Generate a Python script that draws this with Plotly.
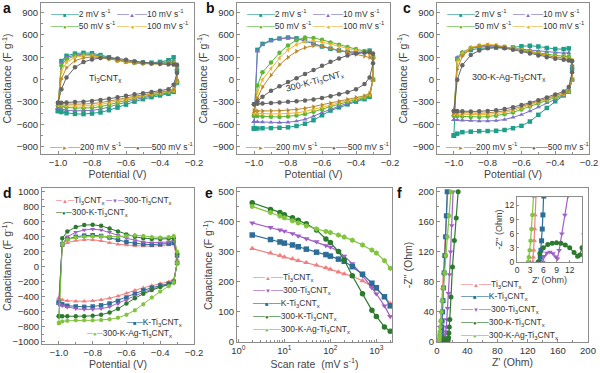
import plotly.graph_objects as go

W, H = 600, 373
FONT = "Liberation Sans, Arial, sans-serif"

# ---------------- data ----------------
POTENTIAL = [-1.0, -0.98, -0.95, -0.90, -0.85, -0.80, -0.75, -0.70, -0.65,
             -0.60, -0.55, -0.50, -0.45, -0.40, -0.35, -0.32, -0.30]
CV_RATES = [2, 10, 50, 100, 200, 500]

# panel a : Ti3CNTx (anodic UP, cathodic DN)
A2_UP = [-420, 250, 320, 350, 360, 355, 330, 300, 270, 248, 235, 228, 228, 238, 262, 300, 120]
A2_DN = [-420, -435, -450, -460, -462, -455, -440, -410, -375, -335, -295, -262, -235, -212, -190, -165, -40]
A10_UP = [-380, 230, 300, 330, 342, 338, 315, 288, 262, 242, 230, 223, 222, 228, 242, 262, 150]
A10_DN = [-380, -395, -410, -418, -420, -412, -396, -370, -340, -305, -272, -242, -216, -196, -176, -155, -30]
A50_UP = [-350, 190, 275, 318, 332, 328, 308, 283, 258, 240, 228, 221, 218, 220, 226, 232, 180]
A50_DN = [-350, -360, -372, -382, -385, -378, -363, -340, -312, -282, -252, -226, -202, -185, -167, -150, -20]
A100_UP = [-335, 110, 235, 298, 320, 320, 302, 280, 256, 238, 226, 218, 214, 214, 214, 214, 190]
A100_DN = [-335, -342, -350, -356, -356, -348, -334, -314, -290, -262, -236, -212, -192, -176, -160, -144, -10]
A200_UP = [-320, 10, 160, 255, 292, 303, 296, 280, 256, 238, 225, 216, 210, 207, 205, 205, 200]
A200_DN = [-320, -322, -326, -330, -330, -322, -308, -290, -270, -246, -222, -201, -182, -166, -150, -130, 0]
A500_UP = [-310, -130, 30, 165, 236, 272, 290, 294, 285, 266, 247, 232, 221, 213, 206, 202, 200]
A500_DN = [-310, -310, -306, -301, -295, -285, -272, -256, -237, -216, -197, -181, -166, -150, -128, -70, 90]

# panel b : 300-K-Ti3CNTx
B2_UP = [-655, 400, 480, 530, 552, 565, 555, 525, 485, 445, 415, 392, 375, 368, 372, 390, 300]
B2_DN = [-655, -655, -652, -650, -646, -640, -622, -592, -545, -478, -415, -372, -332, -295, -262, -232, 0]
B10_UP = [-565, 380, 470, 522, 548, 560, 552, 522, 484, 444, 412, 388, 372, 362, 362, 372, 300]
B10_DN = [-565, -566, -570, -574, -576, -572, -557, -532, -492, -442, -397, -356, -318, -283, -252, -222, 0]
B50_UP = [-485, -80, 100, 230, 360, 460, 530, 565, 560, 535, 500, 470, 440, 410, 385, 370, 300]
B50_DN = [-485, -488, -494, -498, -500, -496, -482, -462, -432, -397, -362, -327, -296, -266, -240, -210, 0]
B100_UP = [-450, -170, 0, 150, 290, 400, 470, 510, 520, 505, 475, 445, 415, 390, 365, 345, 290]
B100_DN = [-450, -453, -458, -460, -460, -456, -446, -427, -402, -372, -342, -311, -281, -256, -231, -200, 0]
B200_UP = [-420, -250, -100, 60, 200, 300, 380, 430, 455, 450, 420, 390, 365, 340, 315, 300, 280]
B200_DN = [-420, -420, -420, -419, -417, -411, -400, -385, -365, -341, -316, -291, -266, -241, -216, -182, 0]
B500_UP = [-330, -290, -230, -150, -90, -30, 20, 75, 130, 185, 240, 285, 325, 350, 365, 368, 350]
B500_DN = [-330, -325, -320, -312, -305, -298, -290, -280, -265, -245, -222, -196, -168, -130, -60, 30, 220]

# panel c : 300-K-Ag-Ti3CNTx
C2_UP = [-750, 280, 350, 398, 420, 430, 432, 428, 432, 448, 455, 445, 425, 412, 410, 420, 150]
C2_DN = [-750, -725, -705, -698, -692, -690, -686, -676, -652, -620, -562, -472, -380, -290, -212, -162, 0]
C10_UP = [-540, 300, 370, 418, 440, 445, 440, 430, 420, 410, 400, 386, 372, 362, 356, 360, 200]
C10_DN = [-540, -540, -545, -550, -555, -555, -550, -535, -506, -470, -422, -370, -312, -260, -210, -170, 0]
C50_UP = [-480, 270, 365, 428, 455, 462, 456, 440, 420, 400, 380, 360, 340, 325, 315, 310, 250]
C50_DN = [-480, -488, -494, -500, -500, -496, -485, -465, -440, -402, -362, -320, -280, -240, -200, -160, 0]
C100_UP = [-460, 240, 355, 430, 460, 470, 465, 446, 421, 396, 370, 346, 325, 306, 292, 286, 260]
C100_DN = [-460, -465, -470, -470, -470, -466, -456, -440, -416, -382, -346, -306, -266, -226, -190, -150, 0]
C200_UP = [-440, 140, 315, 418, 450, 460, 455, 440, 416, 390, 366, 341, 320, 301, 286, 276, 260]
C200_DN = [-440, -444, -450, -450, -450, -446, -436, -420, -396, -366, -330, -292, -256, -216, -180, -140, 0]
C500_UP = [-420, 0, 195, 330, 392, 420, 430, 422, 402, 376, 350, 325, 302, 282, 266, 256, 250]
C500_DN = [-420, -420, -424, -426, -425, -420, -410, -395, -370, -340, -310, -276, -240, -200, -160, -100, 100]

# panel d : comparison of materials
D_TI_UP = [-420, 280, 320, 350, 360, 360, 345, 320, 300, 290, 280, 275, 275, 280, 290, 300, 100]
D_TI_DN = [-420, -440, -455, -460, -460, -455, -440, -420, -390, -355, -315, -280, -250, -225, -200, -170, 50]
D_300TI_UP = [-500, 300, 400, 460, 490, 500, 490, 460, 420, 380, 350, 330, 320, 320, 330, 340, 150]
D_300TI_DN = [-500, -520, -540, -560, -570, -570, -560, -535, -495, -445, -390, -340, -300, -265, -235, -200, 50]
D_KTI_UP = [-480, 300, 370, 400, 415, 420, 410, 390, 360, 330, 310, 300, 295, 300, 310, 320, 150]
D_KTI_DN = [-480, -500, -520, -530, -535, -530, -515, -490, -455, -410, -360, -315, -280, -250, -225, -200, 50]
D_300KTI_UP = [-660, 380, 470, 530, 555, 560, 545, 510, 470, 430, 400, 380, 370, 370, 375, 380, 180]
D_300KTI_DN = [-660, -660, -660, -660, -660, -655, -640, -610, -560, -490, -420, -360, -310, -270, -240, -210, 50]
D_AG_UP = [-750, 300, 360, 390, 400, 405, 405, 400, 400, 410, 420, 410, 395, 390, 395, 410, 200]
D_AG_DN = [-750, -730, -720, -715, -715, -715, -710, -700, -680, -640, -580, -500, -410, -330, -260, -210, 50]

# panel e : rate capability
SCAN_RATES = [2, 5, 8, 10, 15, 20, 30, 50, 80, 100, 150, 200, 300, 500, 800, 1000, 1500, 2000]
E_TI = [310, 295, 287, 282, 276, 270, 263, 255, 246, 241, 232, 226, 218, 203, 185, 175, 150, 128]
E_300TI = [395, 380, 372, 368, 360, 352, 343, 333, 320, 315, 300, 285, 260, 220, 180, 160, 120, 85]
E_KTI = [355, 340, 332, 328, 322, 316, 308, 298, 290, 285, 275, 268, 250, 225, 195, 180, 150, 120]
E_300KTI = [462, 440, 430, 422, 412, 404, 392, 372, 342, 330, 300, 272, 220, 160, 105, 85, 50, 36]
E_AG = [450, 430, 418, 412, 402, 395, 385, 375, 367, 363, 355, 348, 338, 322, 305, 295, 270, 245]

# panel f : Nyquist plots (Z', -Z'')
F_TI_RE = [3.6, 3.7, 3.8, 3.9, 4.0, 4.1, 4.3, 4.6, 5.0, 5.7, 6.5, 7.4, 8.5, 9.8, 11.2, 12.7, 14.3]
F_TI_IM = [0, 1, 2.5, 4.5, 7, 10, 14, 20, 28, 40, 55, 72, 92, 115, 140, 168, 200]
F_KTI_RE = [5.2, 5.3, 5.45, 5.6, 5.75, 5.9, 6.1, 6.4, 6.8, 7.4, 8.0, 8.7, 9.5, 10.4, 11.4, 12.4, 13.5]
F_KTI_IM = [0, 1, 2.5, 4.5, 7, 10, 14, 20, 28, 40, 55, 72, 92, 115, 140, 168, 200]
F_300TI_RE = [5.9, 6.2, 6.8, 7.5, 8.2, 8.8, 9.2, 9.6, 10.2, 10.9, 11.6, 12.3, 13.0, 14.0, 15.2, 16.5, 18.0, 19.6, 21.3]
F_300TI_IM = [0, 1.2, 1.9, 2.1, 1.8, 1.1, 0.7, 2.5, 6, 10, 14, 20, 30, 45, 65, 90, 120, 155, 200]
F_300KTI_RE = [4.8, 5.2, 6.0, 7.0, 8.0, 9.0, 10.0, 11.0, 12.0, 13.0, 13.8, 14.3, 14.8, 15.3, 15.8, 16.3,
               17.0, 18.5, 20.5, 23.0, 25.5, 28.0]
F_300KTI_IM = [0, 1.8, 3.0, 3.7, 4.0, 4.1, 4.0, 3.6, 3.0, 2.0, 1.2, 1.5, 3, 6, 12, 20,
               30, 60, 100, 135, 165, 200]
F_AG_RE = [2.5, 2.7, 2.9, 3.1, 3.3, 3.5, 3.8, 4.2, 4.8, 5.8, 7.0, 8.4, 10.0, 11.8, 13.8, 16.0, 18.5]
F_AG_IM = [0, 1, 2.5, 4.5, 7, 10, 14, 20, 28, 40, 55, 72, 92, 115, 140, 168, 200]

CV_TICKS = [-1.0, -0.8, -0.6, -0.4, -0.2]
CV_YTICKS = [-900, -600, -300, 0, 300, 600, 900]
D_YTICKS = [-1000, -800, -600, -400, -200, 0, 200, 400, 600, 800, 1000]
E_XTICKS = [1, 10, 100, 1000]
E_XTICKTEXT = ["10<sup>0</sup>", "10<sup>1</sup>", "10<sup>2</sup>", "10<sup>3</sup>"]
F_TICKS = [0, 40, 80, 120, 160, 200]
INSET_TICKS = [0, 3, 6, 9, 12]

# ---------------- styles ----------------
RATE_STYLE = {
    2: ("#1f9e89", "square", "■"),
    10: ("#7d72c8", "triangle-up", "▲"),
    50: ("#5bb536", "circle", "●"),
    100: ("#f1b42c", "triangle-left", "◄"),
    200: ("#b8892c", "triangle-right", "►"),
    500: ("#656565", "circle", "●"),
}
TI3 = "Ti<sub>3</sub>CNT<sub>x</sub>"
MATERIALS = {
    "Ti": (TI3, "#f27f7f", "triangle-up", "▲"),
    "300Ti": ("300-" + TI3, "#a25fc6", "triangle-down", "▼"),
    "KTi": ("K-" + TI3, "#2d6e98", "square", "■"),
    "300KTi": ("300-K-" + TI3, "#2c7a2e", "circle", "●"),
    "Ag": ("300-K-Ag-" + TI3, "#82c43f", "hexagon", "●"),
}

fig = go.Figure()


def loop(up, dn):
    xs = POTENTIAL + POTENTIAL[::-1] + [POTENTIAL[0]]
    ys = up + dn[::-1] + [up[0]]
    return xs, ys


def add_cv(up, dn, color, sym, name, xa, ya, size=4.5):
    xs, ys = loop(up, dn)
    fig.add_trace(go.Scatter(x=xs, y=ys, mode="lines+markers", name=name,
                             line=dict(color=color, width=1),
                             marker=dict(symbol=sym, size=size, color=color, line=dict(width=0)),
                             xaxis=xa, yaxis=ya, showlegend=False))


PANEL_CV = {
    ("x", "y"): [A2_UP, A2_DN, A10_UP, A10_DN, A50_UP, A50_DN, A100_UP, A100_DN, A200_UP, A200_DN, A500_UP, A500_DN],
    ("x2", "y2"): [B2_UP, B2_DN, B10_UP, B10_DN, B50_UP, B50_DN, B100_UP, B100_DN, B200_UP, B200_DN, B500_UP, B500_DN],
    ("x3", "y3"): [C2_UP, C2_DN, C10_UP, C10_DN, C50_UP, C50_DN, C100_UP, C100_DN, C200_UP, C200_DN, C500_UP, C500_DN],
}
for (xa, ya), arrs in PANEL_CV.items():
    for i, r in enumerate(CV_RATES):
        c, s, _ = RATE_STYLE[r]
        add_cv(arrs[2 * i], arrs[2 * i + 1], c, s, f"{r} mV s-1", xa, ya)

D_SERIES = [("Ti", D_TI_UP, D_TI_DN), ("KTi", D_KTI_UP, D_KTI_DN), ("300Ti", D_300TI_UP, D_300TI_DN),
            ("300KTi", D_300KTI_UP, D_300KTI_DN), ("Ag", D_AG_UP, D_AG_DN)]
for key, up, dn in D_SERIES:
    lab, c, s, _ = MATERIALS[key]
    add_cv(up, dn, c, s, lab, "x4", "y4")

E_SERIES = [("Ti", E_TI), ("300Ti", E_300TI), ("KTi", E_KTI), ("300KTi", E_300KTI), ("Ag", E_AG)]
for key, vals in E_SERIES:
    lab, c, s, _ = MATERIALS[key]
    fig.add_trace(go.Scatter(x=SCAN_RATES, y=vals, mode="lines+markers", name=lab,
                             line=dict(color=c, width=1.2),
                             marker=dict(symbol=s, size=5.5, color=c, line=dict(width=0)),
                             xaxis="x5", yaxis="y5", showlegend=False))

F_SERIES = [("Ti", F_TI_RE, F_TI_IM), ("KTi", F_KTI_RE, F_KTI_IM), ("300Ti", F_300TI_RE, F_300TI_IM),
            ("300KTi", F_300KTI_RE, F_300KTI_IM), ("Ag", F_AG_RE, F_AG_IM)]
for axes in (("x6", "y6"), ("x7", "y7")):
    for key, re_, im_ in F_SERIES:
        lab, c, s, _ = MATERIALS[key]
        fig.add_trace(go.Scatter(x=re_, y=im_, mode="lines+markers", name=lab,
                                 line=dict(color=c, width=1.2),
                                 marker=dict(symbol=s, size=5, color=c, line=dict(width=0)),
                                 xaxis=axes[0], yaxis=axes[1], showlegend=False))

# ---------------- layout ----------------
AXC = "#8c8c8c"
TICKFONT = dict(size=9.5, color="#333", family=FONT)
TITLEFONT = dict(size=10.5, color="#444", family=FONT)


def dom_x(l, r):
    return [l / W, r / W]


def dom_y(t, b):
    return [1 - b / H, 1 - t / H]


def axis(dom, rng, title=None, standoff=None, **kw):
    d = dict(domain=dom, range=rng, showline=True, linecolor=AXC, linewidth=1, mirror=True,
             ticks="inside", ticklen=3, tickcolor=AXC, tickfont=TICKFONT, showgrid=False,
             zeroline=False, automargin=False)
    if title is not None:
        d["title"] = dict(text=title, font=TITLEFONT)
        if standoff is not None:
            d["title"]["standoff"] = standoff
    d.update(kw)
    return d


CAP = "Capacitance (F g<sup>-1</sup>)"
POT_T = "Potential (V)"
YA, YB = 3, 154
cv_x = dict(tickvals=CV_TICKS, tickformat=".1f", minor=dict(ticks="inside", ticklen=2, dtick=0.1, tickcolor=AXC))
cv_y = dict(tickvals=CV_YTICKS, minor=dict(ticks="inside", ticklen=2, dtick=150, tickcolor=AXC))

fig.update_layout(
    width=W, height=H, margin=dict(l=0, r=0, t=0, b=0), template="none",
    paper_bgcolor="white", plot_bgcolor="white", font=dict(family=FONT, color="#333"),
    showlegend=False,
    xaxis=axis(dom_x(41, 194), [-1.1, -0.2], POT_T, 0, **cv_x),
    yaxis=axis(dom_y(YA, YB), [-998, 1029], CAP, 3, **cv_y),
    xaxis2=axis(dom_x(237, 390), [-1.1, -0.2], POT_T, 0, anchor="y2", **cv_x),
    yaxis2=axis(dom_y(YA, YB), [-998, 1029], CAP, 3, anchor="x2", **cv_y),
    xaxis3=axis(dom_x(437, 589), [-1.1, -0.2], POT_T, 0, anchor="y3", **cv_x),
    yaxis3=axis(dom_y(YA, YB), [-998, 1029], CAP, 3, anchor="x3", **cv_y),
    xaxis4=axis(dom_x(42, 194), [-1.1, -0.2], POT_T, 0, anchor="y4", **cv_x),
    yaxis4=axis(dom_y(188, 344), [-1030, 1050], CAP, 3, anchor="x4", tickvals=D_YTICKS,
                minor=dict(ticks="inside", ticklen=2, dtick=100, tickcolor=AXC)),
    xaxis5=axis(dom_x(237, 392), [-0.03, 3.34], "Scan rate  (mV s<sup>-1</sup>)", 0, anchor="y5", type="log",
                tickvals=E_XTICKS, ticktext=E_XTICKTEXT,
                minor=dict(ticks="inside", ticklen=2, tickcolor=AXC,
                           tickvals=[2, 3, 4, 5, 6, 7, 8, 9, 20, 30, 40, 50, 60, 70, 80, 90,
                                     200, 300, 400, 500, 600, 700, 800, 900, 2000])),
    yaxis5=axis(dom_y(188, 342), [0, 511], CAP, 3, anchor="x5", tickvals=[0, 100, 200, 300, 400, 500],
                minor=dict(ticks="inside", ticklen=2, dtick=50, tickcolor=AXC)),
    xaxis6=axis(dom_x(437, 588), [0, 200], "Z' (Ohm)", 0, anchor="y6", tickvals=F_TICKS,
                minor=dict(ticks="inside", ticklen=2, dtick=20, tickcolor=AXC)),
    yaxis6=axis(dom_y(188, 342), [0, 205], "-Z'' (Ohm)", 3, anchor="x6", tickvals=F_TICKS,
                minor=dict(ticks="inside", ticklen=2, dtick=20, tickcolor=AXC)),
    xaxis7=axis(dom_x(517, 582), [0, 14.8], "Z' (Ohm)", 0, anchor="y7", tickvals=INSET_TICKS,
                tickfont=dict(size=8.5, color="#333", family=FONT), ticklen=2),
    yaxis7=axis(dom_y(197, 262), [0, 13.8], "-Z'' (Ohm)", 0, anchor="x7", tickvals=INSET_TICKS,
                tickfont=dict(size=8.5, color="#333", family=FONT), ticklen=2),
)
fig.layout.xaxis7.title.font.size = 9
fig.layout.yaxis7.title.font.size = 9

ann = []
LEG_SIZE = 8.5


def legend_entry(px, py, color, glyph, label, n=2, size=LEG_SIZE):
    dash = "─" * n
    key = (f"<span style='color:{color}'>{dash}</span>"
           f"<span style='color:{color};font-size:6px'>{glyph}</span>"
           f"<span style='color:{color}'>{dash}</span>")
    return dict(text=key + label, x=px / W, y=1 - py / H, xref="paper", yref="paper",
                xanchor="left", yanchor="middle", showarrow=False,
                font=dict(size=size, color="#333", family=FONT))


def rate_label(r):
    return f"{r} mV s<sup>-1</sup>"


for L in (41, 237, 437):
    pos = {2: (L + 7, 13), 10: (L + 73, 13), 50: (L + 7, 25), 100: (L + 73, 25),
           200: (L + 6, 146), 500: (L + 80, 146)}
    for r in CV_RATES:
        c, _, g = RATE_STYLE[r]
        ann.append(legend_entry(pos[r][0], pos[r][1], c, g, rate_label(r)))

d_pos = {"Ti": (53, 200), "300Ti": (103, 200), "300KTi": (53, 212), "KTi": (124, 322), "Ag": (84, 333)}
for k, (px, py) in d_pos.items():
    lab, c, _, g = MATERIALS[k]
    ann.append(legend_entry(px, py, c, g, lab, n=1))

e_rows = ["Ti", "300Ti", "KTi", "300KTi", "Ag"]
for i, k in enumerate(e_rows):
    lab, c, _, g = MATERIALS[k]
    ann.append(legend_entry(250, 277 + i * 13, c, g, lab))

f_rows = ["Ti", "KTi", "300Ti", "300KTi", "Ag"]
for i, k in enumerate(f_rows):
    lab, c, _, g = MATERIALS[k]
    ann.append(legend_entry(458, 284 + i * 12.8, c, g, lab))

# sample names inside CV panels
ann.append(dict(text=TI3, x=-0.72, y=20, xref="x", yref="y", showarrow=False,
                font=dict(size=9, color="#333", family=FONT)))
ann.append(dict(text="300-K-" + TI3, x=-0.64, y=-20, xref="x2", yref="y2", showarrow=False,
                textangle=-15, font=dict(size=9, color="#333", family=FONT)))
ann.append(dict(text="300-K-Ag-" + TI3, x=-0.676, y=30, xref="x3", yref="y3", showarrow=False,
                font=dict(size=9, color="#333", family=FONT)))

# panel letters
for letter, px, py in [("a", 1, 8), ("b", 204, 8), ("c", 401, 8), ("d", 1, 193), ("e", 203, 193), ("f", 395, 193)]:
    ann.append(dict(text=f"<b>{letter}</b>", x=px / W, y=1 - py / H, xref="paper", yref="paper",
                    xanchor="left", yanchor="middle", showarrow=False,
                    font=dict(size=14, color="#111", family=FONT)))

fig.update_layout(annotations=ann)
fig.write_html("out.html", config={"displayModeBar": False},
               post_script="document.body.style.margin='0px';")
